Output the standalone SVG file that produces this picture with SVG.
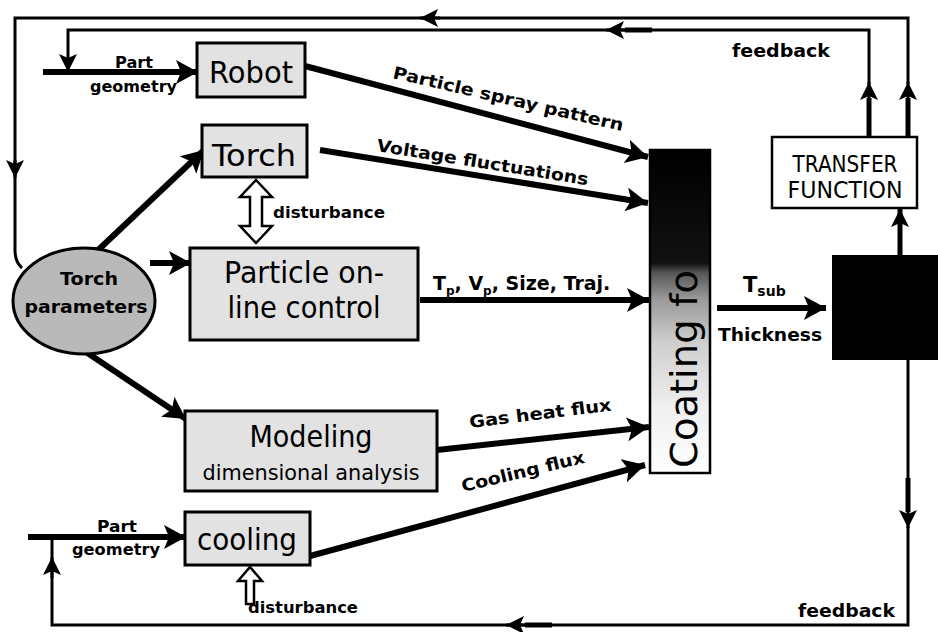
<svg xmlns="http://www.w3.org/2000/svg" width="938" height="632" viewBox="0 0 938 632">
<style>
.box{fill:#e2e2e2;stroke:#000;stroke-width:3}
.wbox{fill:#fff;stroke:#000;stroke-width:2.5}
.bt{font-family:"DejaVu Sans",Verdana,sans-serif;fill:#000}
.lb{font-family:"DejaVu Sans",Verdana,sans-serif;font-weight:bold;fill:#000}
.thick{fill:none;stroke:#000;stroke-width:6}
.fb{fill:none;stroke:#000;stroke-width:3}
.fbt{fill:none;stroke:#000;stroke-width:5}
.hollow{fill:#fff;stroke:#000;stroke-width:2.5;stroke-linejoin:miter}
</style>
<defs>
<marker id="big" markerUnits="userSpaceOnUse" markerWidth="26" markerHeight="26" refX="22" refY="12" orient="auto">
<path d="M0,0 L22,12 L0,24 L5,12 z" fill="#000"/>
</marker>
<marker id="sm" markerUnits="userSpaceOnUse" markerWidth="22" markerHeight="22" refX="18" refY="9" orient="auto">
<path d="M0,0 L18,9 L0,18 L4,9 z" fill="#000"/>
</marker>
<linearGradient id="coat" x1="0" y1="0" x2="0" y2="1">
<stop offset="0" stop-color="#000"/>
<stop offset="0.35" stop-color="#111"/>
<stop offset="0.38" stop-color="#555"/>
<stop offset="0.46" stop-color="#999"/>
<stop offset="0.6" stop-color="#cfcfcf"/>
<stop offset="0.8" stop-color="#f0f0f0"/>
<stop offset="1" stop-color="#fff"/>
</linearGradient>
</defs>

<g id="connectors">
<!-- outer feedback loop -->
<path class="fbt" d="M908,137 V98"/>
<path class="fb" d="M908,100 V82" marker-end="url(#sm)"/>
<path class="fb" d="M908,84 V18 H420"/>
<path class="fb" d="M440,18 H420" marker-end="url(#sm)"/>
<path class="fb" d="M420,18 H15 V177"/>
<path class="fb" d="M15,160 V178" marker-end="url(#sm)"/>
<path class="fb" d="M15,177 V250 Q15,262 22,268"/>
<!-- inner feedback loop -->
<path class="fbt" d="M869,137 V98"/>
<path class="fb" d="M869,100 V82" marker-end="url(#sm)"/>
<path class="fb" d="M869,84 V30 H607"/>
<path class="fbt" d="M652,30 H625"/>
<path class="fb" d="M627,30 H606" marker-end="url(#sm)"/>
<path class="fb" d="M607,30 H68 V72" marker-end="url(#sm)"/>
<!-- part geometry top -->
<path class="thick" d="M43,72 H198" marker-end="url(#big)"/>
<!-- torch parameters outputs -->
<path class="thick" d="M95,253 L204,150" marker-end="url(#big)"/>
<path class="thick" d="M150,263 H191" marker-end="url(#big)"/>
<path class="thick" d="M83,350 L186,419" marker-end="url(#big)"/>
<!-- to coating -->
<path class="thick" d="M305,66 L648,157" marker-end="url(#big)"/>
<path class="thick" d="M320,150 L648,203" marker-end="url(#big)"/>
<path class="thick" d="M420,300 H649" marker-end="url(#big)"/>
<path class="thick" d="M437,450 L649,427" marker-end="url(#big)"/>
<path class="thick" d="M310,556 L645,465" marker-end="url(#big)"/>
<!-- coating to black box -->
<path class="thick" d="M717,308 H826" marker-end="url(#big)"/>
<!-- black box to transfer -->
<path class="fbt" d="M900,255 V209" marker-end="url(#sm)"/>
<!-- right down feedback -->
<path class="fb" d="M908,360 V510"/>
<path class="fbt" d="M908,478 V512"/>
<path class="fb" d="M908,508 V528" marker-end="url(#sm)"/>
<path class="fb" d="M908,526 V625 H507"/>
<path class="fbt" d="M552,625 H525"/>
<path class="fb" d="M527,625 H506" marker-end="url(#sm)"/>
<path class="fb" d="M507,625 H52 V558"/>
<path class="fb" d="M52,578 V557" marker-end="url(#sm)"/>
<path class="fb" d="M52,558 V537"/>
<!-- part geometry bottom -->
<path class="thick" d="M28,537 H186" marker-end="url(#big)"/>
<!-- disturbance hollow arrows -->
<path class="hollow" d="M256,180 L272,197 L262,197 L262,226 L272,226 L256,243 L240,226 L250,226 L250,197 L240,197 Z"/>
<path class="hollow" d="M250,567 L262,581 L254,581 L254,604 L246,604 L246,581 L238,581 Z"/>
</g>

<g id="robot">
<rect class="box" x="197" y="43" width="108" height="54"/>
<text class="bt" x="251" y="83" font-size="30" text-anchor="middle" textLength="84" lengthAdjust="spacingAndGlyphs">Robot</text>
</g>
<g id="torch">
<rect class="box" x="202" y="125" width="105" height="52"/>
<text class="bt" x="254" y="166" font-size="30" text-anchor="middle" textLength="84" lengthAdjust="spacingAndGlyphs">Torch</text>
</g>
<g id="particle">
<rect class="box" x="190" y="248" width="228" height="92"/>
<text class="bt" x="304" y="283" font-size="31" text-anchor="middle" textLength="160" lengthAdjust="spacingAndGlyphs">Particle on-</text>
<text class="bt" x="304" y="318" font-size="31" text-anchor="middle" textLength="153" lengthAdjust="spacingAndGlyphs">line control</text>
</g>
<g id="modeling">
<rect class="box" x="185" y="411" width="252" height="80"/>
<text class="bt" x="311" y="447" font-size="30" text-anchor="middle" textLength="123" lengthAdjust="spacingAndGlyphs">Modeling</text>
<text class="bt" x="311" y="480" font-size="21" text-anchor="middle" textLength="217" lengthAdjust="spacingAndGlyphs">dimensional analysis</text>
</g>
<g id="cooling">
<rect class="box" x="185" y="512" width="125" height="53"/>
<text class="bt" x="247" y="550" font-size="31" text-anchor="middle" textLength="100" lengthAdjust="spacingAndGlyphs">cooling</text>
</g>
<g id="torch-parameters">
<ellipse cx="84" cy="301" rx="71" ry="53" fill="#b9b9b9" stroke="#000" stroke-width="3"/>
<text class="lb" x="89" y="285" font-size="18" font-weight="900" text-anchor="middle" textLength="58" lengthAdjust="spacingAndGlyphs">Torch</text>
<text class="lb" x="86" y="313" font-size="18" font-weight="900" text-anchor="middle" textLength="123" lengthAdjust="spacingAndGlyphs">parameters</text>
</g>
<g id="coating">
<rect x="650" y="150" width="60" height="323" fill="url(#coat)" stroke="#000" stroke-width="2.5"/>
<text class="bt" transform="translate(697,468) rotate(-90)" font-size="38" textLength="198" lengthAdjust="spacingAndGlyphs">Coating fo</text>
</g>
<g id="transfer-function">
<rect class="wbox" x="772" y="137" width="145" height="71"/>
<text class="bt" x="845" y="172" font-size="23" text-anchor="middle" textLength="105" lengthAdjust="spacingAndGlyphs">TRANSFER</text>
<text class="bt" x="845" y="198" font-size="23" text-anchor="middle" textLength="115" lengthAdjust="spacingAndGlyphs">FUNCTION</text>
</g>
<g id="process">
<rect x="832" y="255" width="106" height="105" fill="#000"/>
</g>

<g id="labels">
<text class="lb" x="115" y="68" font-size="15" textLength="38" lengthAdjust="spacingAndGlyphs">Part</text>
<text class="lb" x="90" y="92" font-size="15" textLength="87" lengthAdjust="spacingAndGlyphs">geometry</text>
<text class="lb" x="97" y="532" font-size="15" textLength="40" lengthAdjust="spacingAndGlyphs">Part</text>
<text class="lb" x="72" y="555" font-size="15" textLength="88" lengthAdjust="spacingAndGlyphs">geometry</text>
<text class="lb" x="273" y="218" font-size="15" textLength="112" lengthAdjust="spacingAndGlyphs">disturbance</text>
<text class="lb" x="248" y="613" font-size="15" textLength="110" lengthAdjust="spacingAndGlyphs">disturbance</text>
<text class="lb" x="732" y="57" font-size="17" textLength="98" lengthAdjust="spacingAndGlyphs">feedback</text>
<text class="lb" x="798" y="617" font-size="17" textLength="97" lengthAdjust="spacingAndGlyphs">feedback</text>
<text class="lb" transform="translate(392,78) rotate(13)" font-size="17" textLength="236" lengthAdjust="spacingAndGlyphs">Particle spray pattern</text>
<text class="lb" transform="translate(376,151) rotate(9.2)" font-size="17" textLength="214" lengthAdjust="spacingAndGlyphs">Voltage fluctuations</text>
<text class="lb" x="433" y="290" font-size="19">T<tspan font-size="12" dy="5">p</tspan><tspan dy="-5">, V</tspan><tspan font-size="12" dy="5">p</tspan><tspan dy="-5">, Size, Traj.</tspan></text>
<text class="lb" transform="translate(470,428) rotate(-7)" font-size="17" textLength="143" lengthAdjust="spacingAndGlyphs">Gas heat flux</text>
<text class="lb" transform="translate(463,492) rotate(-13.5)" font-size="17" textLength="126" lengthAdjust="spacingAndGlyphs">Cooling flux</text>
<text class="lb" x="743" y="292" font-size="21">T<tspan font-size="14" dy="4">sub</tspan></text>
<text class="lb" x="718" y="341" font-size="17" textLength="104" lengthAdjust="spacingAndGlyphs">Thickness</text>
</g>
</svg>
